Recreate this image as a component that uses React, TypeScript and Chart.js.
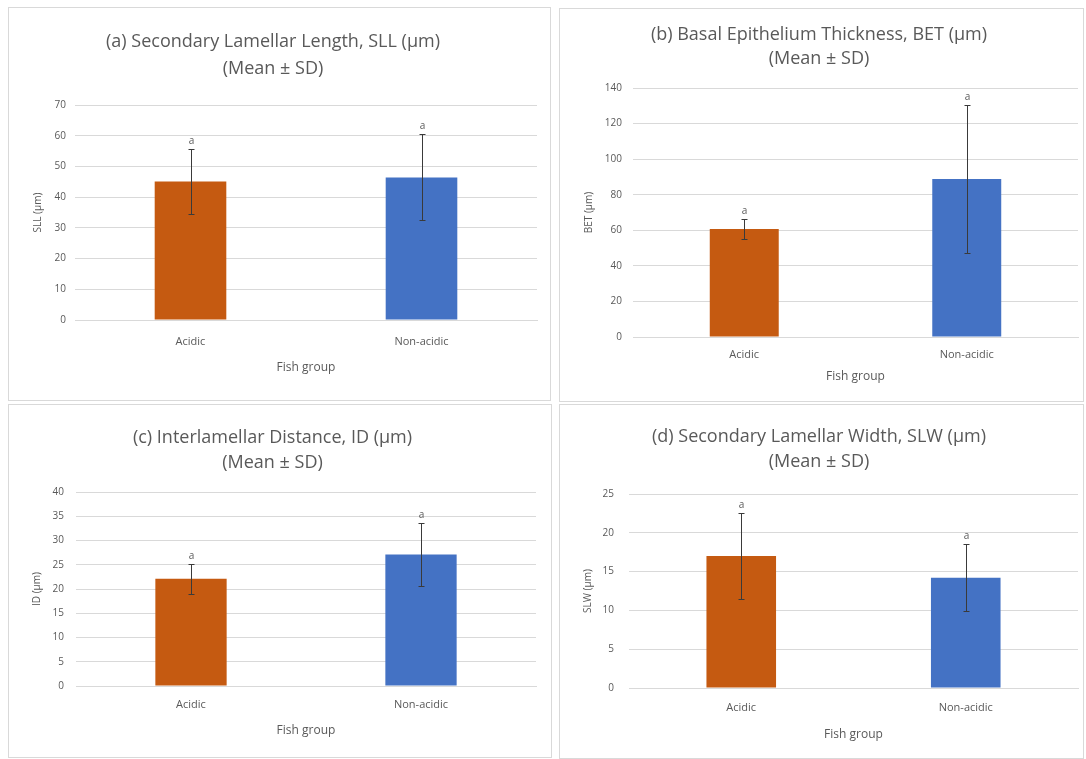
import React, { useEffect, useRef } from "react";
import { Chart, registerables } from "chart.js";
Chart.register(...registerables);

const categories = ["Acidic", "Non-acidic"];
const sllMean = [45.1, 46.4];
const sllSD = [10.5, 14.0];
const betMean = [60.7, 88.8];
const betSD = [5.5, 41.5];
const idMean = [22.1, 27.1];
const idSD = [3.1, 6.5];
const slwMean = [17.0, 14.2];
const slwSD = [5.5, 4.3];
const sigLetters = ["a", "a"];
const barColors = ["#C55A11", "#4472C4"];
const sllTitle = ["(a) Secondary Lamellar Length, SLL (µm)", "(Mean ± SD)"];
const betTitle = ["(b) Basal Epithelium Thickness, BET (µm)", "(Mean ± SD)"];
const idTitle = ["(c) Interlamellar Distance, ID (µm)", "(Mean ± SD)"];
const slwTitle = ["(d) Secondary Lamellar Width, SLW (µm)", "(Mean ± SD)"];
const sllAxis = "SLL (µm)";
const betAxis = "BET (µm)";
const idAxis = "ID (µm)";
const slwAxis = "SLW (µm)";
const xAxisTitle = "Fish group";

const FONT = "'Open Sans', 'Noto Sans', sans-serif";
const TEXT = "#595959";
const GRID = "#d9d9d9";

type Geo = {
  box: number[];
  ca: number[];
  t1: number;
  lh: number;
  tickR: number;
  yTitleX: number;
  catY: number;
  fishY: number;
};

function Panel(props: {
  title: string[];
  yLabel: string;
  means: number[];
  sds: number[];
  yMax: number;
  yStep: number;
  geo: Geo;
}) {
  const { title, yLabel, means, sds, yMax, yStep, geo } = props;
  const ref = useRef<HTMLCanvasElement>(null);
  const [bl, bt, br, bb] = geo.box;
  const W = br - bl - 2;
  const H = bb - bt - 2;
  const ox = bl + 1;
  const oy = bt + 1;

  useEffect(() => {
    const c = ref.current!;
    const titleSize = 18;
    const lh = geo.lh;
    const tPadTop = geo.t1 - oy - lh / 2;
    const tPadBot = geo.ca[1] - oy - tPadTop - 2 * lh;
    const yW = geo.ca[0] - ox;
    const xH = oy + H - geo.ca[3];
    const catLH = 13.2;
    const yTitleLH = 12;
    const fishLH = 14.4;

    const errorBars = {
      id: "errorBars",
      afterDatasetsDraw(chart: any) {
        const ctx = chart.ctx;
        const meta = chart.getDatasetMeta(0);
        const ys = chart.scales.y;
        ctx.save();
        meta.data.forEach((el: any, i: number) => {
          const x = Math.round(el.x) + 0.5;
          const top = Math.round(ys.getPixelForValue(means[i] + sds[i])) + 0.5;
          const bot = Math.round(ys.getPixelForValue(means[i] - sds[i])) + 0.5;
          ctx.strokeStyle = "#3a3a3a";
          ctx.lineWidth = 1;
          ctx.beginPath();
          ctx.moveTo(x, top);
          ctx.lineTo(x, bot);
          ctx.moveTo(x - 3, top);
          ctx.lineTo(x + 3, top);
          ctx.moveTo(x - 3, bot);
          ctx.lineTo(x + 3, bot);
          ctx.stroke();
          ctx.fillStyle = TEXT;
          ctx.font = `10px ${FONT}`;
          ctx.textAlign = "center";
          ctx.textBaseline = "bottom";
          ctx.fillText(sigLetters[i], x, top - 3);
        });
        ctx.restore();
      },
    };

    const chart = new Chart(c, {
      type: "bar",
      data: {
        labels: categories,
        datasets: [
          {
            data: means,
            backgroundColor: barColors,
            borderWidth: 0,
            barPercentage: 0.31,
            categoryPercentage: 1,
          },
        ],
      },
      options: {
        responsive: false,
        animation: false,
        layout: { padding: { left: 0, top: 0, right: ox + W - geo.ca[2], bottom: 0 } },
        plugins: {
          legend: { display: false },
          tooltip: { enabled: false },
          title: {
            display: true,
            text: title,
            color: TEXT,
            font: { family: FONT, size: titleSize, weight: "normal", lineHeight: lh / titleSize },
            padding: { top: tPadTop, bottom: tPadBot },
          },
        },
        scales: {
          x: {
            grid: { display: false, drawTicks: false },
            border: { display: true, color: GRID },
            ticks: {
              color: TEXT,
              font: { family: FONT, size: 11, lineHeight: 1.2 },
              padding: geo.catY - geo.ca[3] - catLH / 2,
            },
            title: {
              display: true,
              text: xAxisTitle,
              color: TEXT,
              font: { family: FONT, size: 12, lineHeight: 1.2 },
              padding: { top: 0, bottom: oy + H - geo.fishY - fishLH / 2 },
            },
            afterFit: (s: any) => {
              s.height = xH;
            },
          },
          y: {
            min: 0,
            max: yMax,
            ticks: {
              stepSize: yStep,
              color: TEXT,
              font: { family: FONT, size: 10, lineHeight: 1.2 },
              padding: geo.ca[0] - geo.tickR,
            },
            grid: { color: GRID, drawTicks: false },
            border: { display: false },
            title: {
              display: true,
              text: yLabel,
              color: TEXT,
              font: { family: FONT, size: 10, lineHeight: 1.2 },
              padding: { top: geo.yTitleX - ox - yTitleLH / 2, bottom: 0 },
            },
            afterFit: (s: any) => {
              s.width = yW;
            },
          },
        },
      },
      plugins: [errorBars],
    } as any);
    return () => chart.destroy();
  }, []);

  return (
    <div
      style={{
        position: "absolute",
        left: bl,
        top: bt,
        width: br - bl,
        height: bb - bt,
        boxSizing: "border-box",
        border: `1px solid ${GRID}`,
        background: "#fff",
      }}
    >
      <canvas ref={ref} width={W} height={H} style={{ display: "block", width: W, height: H }} />
    </div>
  );
}

export default function App() {
  const geoA: Geo = { box: [8, 7, 551, 401], ca: [75, 105, 537, 320], t1: 42, lh: 27, tickR: 66, yTitleX: 38, catY: 342, fishY: 368 };
  const geoB: Geo = { box: [559, 8, 1084, 402], ca: [633, 88, 1078, 337], t1: 35, lh: 24, tickR: 622, yTitleX: 589, catY: 355, fishY: 377 };
  const geoC: Geo = { box: [8, 404, 552, 758], ca: [76, 492, 536, 686], t1: 438, lh: 25, tickR: 64, yTitleX: 37, catY: 705, fishY: 731 };
  const geoD: Geo = { box: [559, 404, 1084, 759], ca: [629, 494, 1078, 688], t1: 437, lh: 25, tickR: 614, yTitleX: 588, catY: 708, fishY: 735 };
  return (
    <div style={{ position: "absolute", left: 0, top: 0, width: 1086, height: 759, background: "#fff", overflow: "hidden" }}>
      <Panel title={sllTitle} yLabel={sllAxis} means={sllMean} sds={sllSD} yMax={70} yStep={10} geo={geoA} />
      <Panel title={betTitle} yLabel={betAxis} means={betMean} sds={betSD} yMax={140} yStep={20} geo={geoB} />
      <Panel title={idTitle} yLabel={idAxis} means={idMean} sds={idSD} yMax={40} yStep={5} geo={geoC} />
      <Panel title={slwTitle} yLabel={slwAxis} means={slwMean} sds={slwSD} yMax={25} yStep={5} geo={geoD} />
    </div>
  );
}
